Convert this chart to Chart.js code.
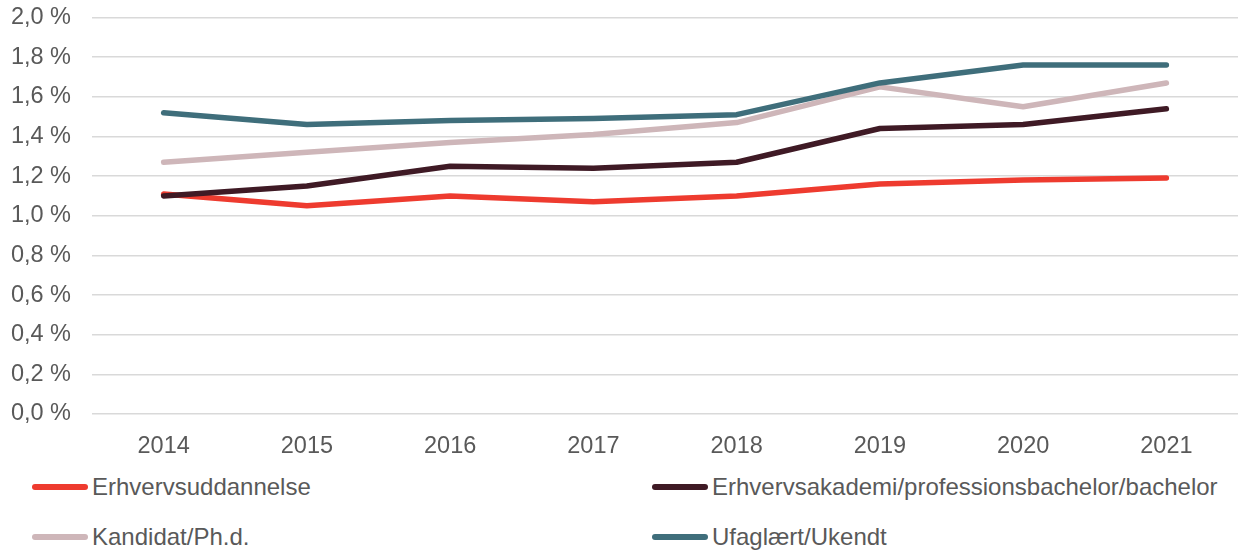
<!DOCTYPE html>
<html>
<head>
<meta charset="utf-8">
<script src="https://cdn.jsdelivr.net/npm/chart.js@4/dist/chart.umd.min.js"></script>
<style>
  html, body { margin: 0; padding: 0; background: #fff; }
  #wrap { position: relative; width: 1238px; height: 553px; overflow: hidden; font-family: "Liberation Sans", Arial, sans-serif; }
  #c { position: absolute; left: 0; top: 0; }
  .lg { position: absolute; display: flex; align-items: center; color: #595959; font-size: 24px; white-space: nowrap; }
  .lg .sym { width: 56px; height: 6px; border-radius: 3px; margin-right: 4px; }
</style>
</head>
<body>
<div id="wrap">
  <canvas id="c" width="1238" height="465"></canvas>
  <div id="legend"></div>
</div>
<script>
const categories = ["2014", "2015", "2016", "2017", "2018", "2019", "2020", "2021"];
const seriesNames = ["Erhvervsuddannelse", "Erhvervsakademi/professionsbachelor/bachelor", "Kandidat/Ph.d.", "Ufaglært/Ukendt"];
const erhvervsuddannelse = [1.11, 1.05, 1.10, 1.07, 1.10, 1.16, 1.18, 1.19];
const erhvervsakademi = [1.10, 1.15, 1.25, 1.24, 1.27, 1.44, 1.46, 1.54];
const kandidat = [1.27, 1.32, 1.37, 1.41, 1.47, 1.65, 1.55, 1.67];
const ufaglaert = [1.52, 1.46, 1.48, 1.49, 1.51, 1.67, 1.76, 1.76];
const yTicks = [0, 0.2, 0.4, 0.6, 0.8, 1.0, 1.2, 1.4, 1.6, 1.8, 2.0];
const colors = ["#EE3B2F", "#3F1A25", "#CEB6B9", "#3F6E7B"];

const seriesData = [erhvervsuddannelse, erhvervsakademi, kandidat, ufaglaert];
const datasets = seriesData.map((d, i) => ({
  label: seriesNames[i],
  data: d,
  borderColor: colors[i],
  backgroundColor: colors[i],
  borderWidth: 5.5,
  borderCapStyle: 'round',
  borderJoinStyle: 'round',
  pointRadius: 0,
  tension: 0,
  fill: false,
  order: 4 - i
}));

const font = { family: '"Liberation Sans", Arial, sans-serif', size: 23.5 };

new Chart(document.getElementById('c'), {
  type: 'line',
  data: { labels: categories, datasets },
  options: {
    responsive: false,
    animation: false,
    events: [],
    layout: { padding: { top: 17.5, right: 0, left: 0, bottom: 0 } },
    plugins: { legend: { display: false }, tooltip: { enabled: false } },
    scales: {
      x: {
        offset: true,
        grid: { display: false, drawTicks: false },
        border: { display: false },
        ticks: { color: '#595959', font, padding: 18, maxRotation: 0 },
        afterFit: s => { s.height = 51; s.paddingLeft = 0; s.paddingRight = 0; }
      },
      y: {
        min: 0, max: 2.0,
        afterBuildTicks: s => { s.ticks = yTicks.map(v => ({ value: v })); },
        grid: { color: '#D9D9D9', lineWidth: 1.5, drawTicks: false },
        border: { display: false },
        ticks: {
          color: '#595959', font, padding: 21,
          callback: v => v.toFixed(1).replace('.', ',') + ' %'
        },
        afterFit: s => { s.width = 92; s.paddingTop = 0; s.paddingBottom = 0; }
      }
    }
  }
});

const legendPos = [[32, 487], [652, 487], [32, 537], [652, 537]];
const lg = document.getElementById('legend');
seriesNames.forEach((n, i) => {
  const el = document.createElement('div');
  el.className = 'lg';
  el.style.left = legendPos[i][0] + 'px';
  el.style.top = (legendPos[i][1] - 14) + 'px';
  el.style.height = '28px';
  const s = document.createElement('span');
  s.className = 'sym';
  s.style.background = colors[i];
  const t = document.createElement('span');
  t.textContent = n;
  el.appendChild(s); el.appendChild(t);
  lg.appendChild(el);
});
</script>
</body>
</html>
